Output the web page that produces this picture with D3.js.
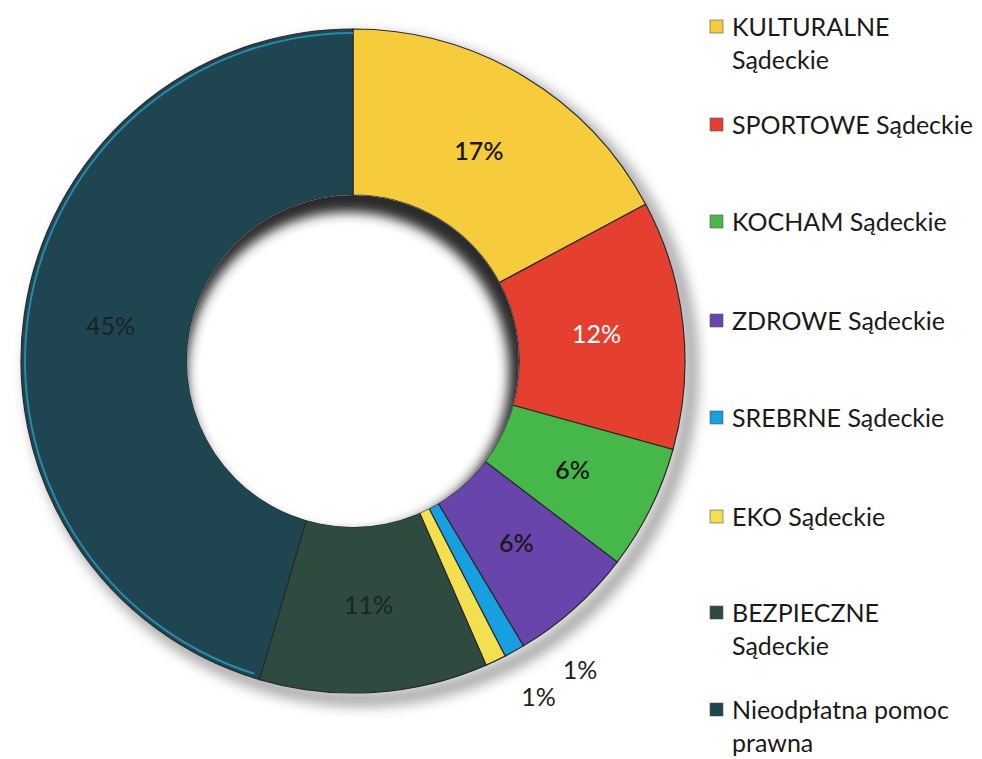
<!DOCTYPE html>
<html>
<head>
<meta charset="utf-8">
<script src="https://cdn.jsdelivr.net/npm/d3@7"></script>
<style>
  body { margin: 0; background: #fff; }
  svg { display: block; }
</style>
</head>
<body>
<div id="chart"></div>
<script>
// chart data
var categories = ["KULTURALNE Sądeckie", "SPORTOWE Sądeckie", "KOCHAM Sądeckie", "ZDROWE Sądeckie",
                  "SREBRNE Sądeckie", "EKO Sądeckie", "BEZPIECZNE Sądeckie", "Nieodpłatna pomoc prawna"];
var values = [17, 12, 6, 6, 1, 1, 11, 45];
var labels = ["17%", "12%", "6%", "6%", "1%", "1%", "11%", "45%"];
// legend text lines (wrapped as in the picture)
var legendLines = [["KULTURALNE", "Sądeckie"], ["SPORTOWE Sądeckie"], ["KOCHAM Sądeckie"], ["ZDROWE Sądeckie"],
                   ["SREBRNE Sądeckie"], ["EKO Sądeckie"], ["BEZPIECZNE", "Sądeckie"], ["Nieodpłatna pomoc", "prawna"]];

var colors = ["#f6cb3c", "#e5402f", "#46b849", "#6845aa", "#189fe0", "#f3df50", "#2f4a3e", "#1f4650"];
var labelColors = ["#1a1a1a", "#ffffff", "#1a1a1a", "#1a1a1a", "#222", "#222", "#1b2621", "#15232a"];

var width = 982, height = 759;
var cx = 353, cy = 361;
var outerR = 332, innerR = 166;

var svg = d3.select("#chart").append("svg")
    .attr("width", width)
    .attr("height", height);

var defs = svg.append("defs");
var blur = defs.append("filter").attr("id", "blur")
    .attr("x", "-20%").attr("y", "-20%").attr("width", "140%").attr("height", "140%");
blur.append("feGaussianBlur").attr("stdDeviation", 7);
var blurSmall = defs.append("filter").attr("id", "blurSmall")
    .attr("x", "-20%").attr("y", "-20%").attr("width", "140%").attr("height", "140%");
blurSmall.append("feGaussianBlur").attr("stdDeviation", 6);
defs.append("clipPath").attr("id", "hole")
    .append("circle").attr("r", innerR);

var g = svg.append("g").attr("transform", "translate(" + cx + "," + cy + ")");

var pie = d3.pie().sort(null).value(function(d) { return d; });
var arcs = pie(values);

var arc = d3.arc().innerRadius(innerR).outerRadius(outerR);
var labelArc = d3.arc().innerRadius(245).outerRadius(245);
var outsideArc = d3.arc().innerRadius(384).outerRadius(384);

// soft drop shadow under the ring (bottom right)
g.append("circle")
    .attr("cx", 9).attr("cy", 9)
    .attr("r", outerR - 3)
    .attr("fill", "none")
    .attr("stroke", "#666")
    .attr("stroke-width", 12)
    .attr("opacity", 0.7)
    .attr("filter", "url(#blur)");

g.selectAll("path.slice")
    .data(arcs)
    .enter().append("path")
    .attr("class", "slice")
    .attr("d", arc)
    .attr("fill", function(d, i) { return colors[i]; })
    .attr("stroke", "#2a2a2a")
    .attr("stroke-width", 1.2);

// light rim on the navy outer edge
var rim = d3.arc().innerRadius(outerR - 5).outerRadius(outerR - 3);
g.append("path")
    .datum(arcs[7])
    .attr("d", function(d) { return rim({ startAngle: d.startAngle + 0.02, endAngle: d.endAngle }); })
    .attr("fill", "#2b9ac4")
    .attr("opacity", 0.8);

// inner shadow inside the hole
g.append("circle").attr("r", innerR).attr("fill", "#fff");
g.append("g").attr("clip-path", "url(#hole)")
    .append("circle")
    .attr("cx", -5).attr("cy", 12)
    .attr("r", innerR + 10)
    .attr("fill", "none")
    .attr("stroke", "#2a2a2a")
    .attr("stroke-width", 30)
    .attr("filter", "url(#blurSmall)");

// slice labels
var outsideShift = [0, 0, 0, 0, -0.125, -0.06, 0, 0];
g.selectAll("text.pct")
    .data(arcs)
    .enter().append("text")
    .attr("class", "pct")
    .attr("transform", function(d, i) {
        var p;
        if (values[i] < 2) {
            var a = (d.startAngle + d.endAngle) / 2 + outsideShift[i];
            p = outsideArc.centroid({ startAngle: a, endAngle: a });
        } else {
            p = labelArc.centroid(d);
        }
        return "translate(" + p[0] + "," + p[1] + ")";
    })
    .attr("text-anchor", "middle")
    .attr("dy", "0.35em")
    .style("font-family", "Lato, 'Open Sans', sans-serif")
    .style("font-size", "25px")
    .style("font-weight", function(d, i) { return (i === 0 || i === 2 || i === 3) ? "600" : "400"; })
    .attr("fill", function(d, i) { return labelColors[i]; })
    .text(function(d, i) { return labels[i]; });

// legend
var legendY = [27, 125, 222, 321, 418, 517, 613, 710];
var legend = svg.selectAll(".legend")
    .data(categories)
    .enter().append("g")
    .attr("class", "legend")
    .attr("transform", function(d, i) { return "translate(710," + legendY[i] + ")"; });

legend.append("rect")
    .attr("x", 0)
    .attr("y", -7)
    .attr("width", 13)
    .attr("height", 13)
    .attr("fill", function(d, i) { return colors[i]; })
    .attr("stroke", "#555")
    .attr("stroke-width", 0.6);

legend.each(function(d, i) {
    var t = d3.select(this).append("text")
        .attr("x", 22)
        .attr("y", 0)
        .style("font-family", "Lato, 'Open Sans', sans-serif")
        .style("font-size", "25px")
        .attr("fill", "#1a1a1a");
    legendLines[i].forEach(function(line, j) {
        t.append("tspan")
            .attr("x", 22)
            .attr("dy", j === 0 ? "0.35em" : "1.34em")
            .text(line);
    });
});
</script>
</body>
</html>
